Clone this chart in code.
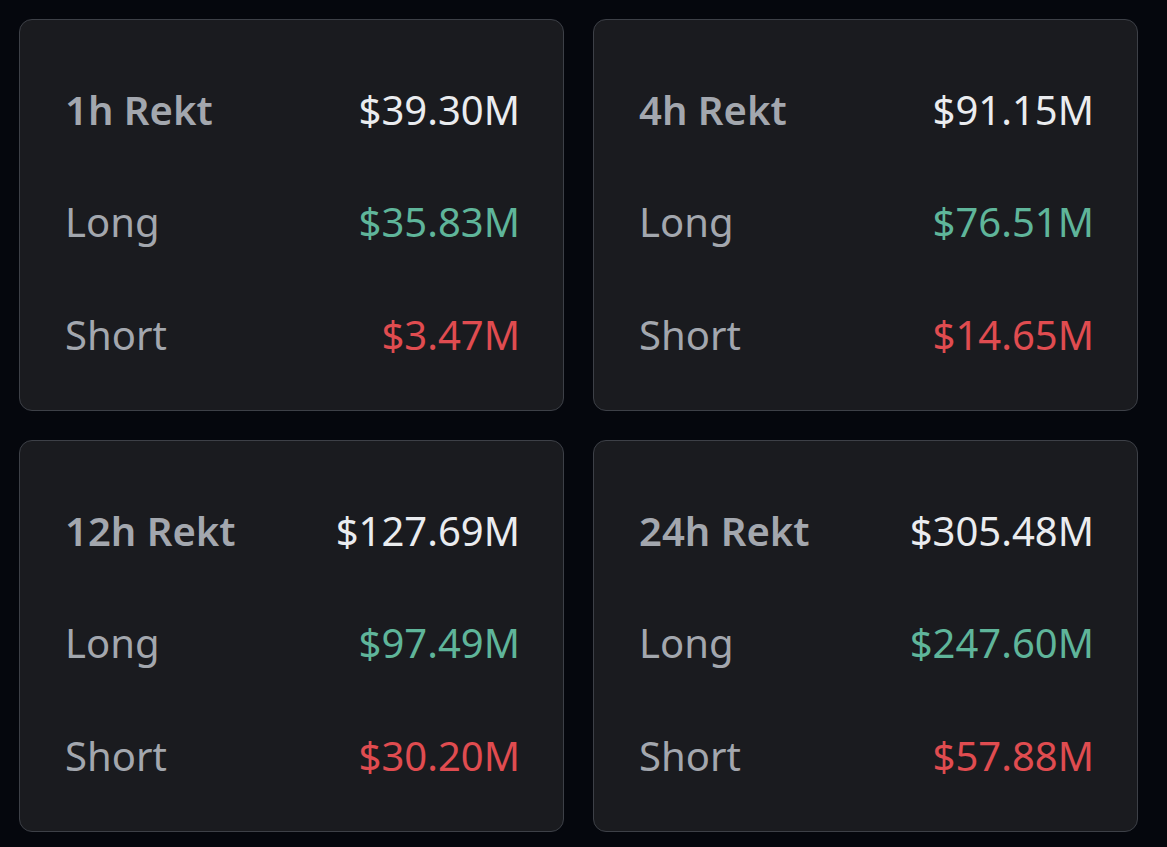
<!DOCTYPE html>
<html lang="en">
<head>
  <meta charset="UTF-8">
  <title>Rekt Summary</title>
  <script src="https://cdn.jsdelivr.net/npm/chart.js"></script>
  <style>
    html, body {
      margin: 0;
      padding: 0;
      background: #05070d;
      width: 1167px;
      height: 847px;
      overflow: hidden;
      font-family: "Noto Sans", "Open Sans", sans-serif;
    }
    .grid {
      position: relative;
      width: 1167px;
      height: 847px;
    }
    .card {
      position: absolute;
      width: 545px;
      height: 392px;
      background: #1a1b1f;
      border: 1.5px solid #3d4047;
      border-radius: 13px;
      box-sizing: border-box;
    }
    .row {
      position: absolute;
      left: 45px;
      right: 43px;
      height: 50px;
      display: flex;
      justify-content: space-between;
      align-items: center;
      font-size: 40px;
      line-height: 50px;
    }
    .label { color: #a3a7ae; }
    .title .label { font-weight: 600; }
    .value { color: #eaecef; }
    .long .value { color: #5fb59a; }
    .short .value { color: #e04c50; }
  </style>
</head>
<body>
  <div class="grid" id="grid"></div>

  <script>
    // data
    const periods = ['1h', '4h', '12h', '24h'];
    const totalRekt = [39.30, 91.15, 127.69, 305.48];
    const longRekt = [35.83, 76.51, 97.49, 247.60];
    const shortRekt = [3.47, 14.65, 30.20, 57.88];

    const cardLeft = [19, 593];
    const cardTop = [19, 440];
    const rowCenters = [90, 202, 315];

    function fmt(v) {
      return '$' + v.toFixed(2) + 'M';
    }

    const grid = document.getElementById('grid');
    periods.forEach(function(p, i) {
      const card = document.createElement('div');
      card.className = 'card';
      card.style.left = cardLeft[i % 2] + 'px';
      card.style.top = cardTop[Math.floor(i / 2)] + 'px';

      const rows = [
        ['title', p + ' Rekt', totalRekt[i]],
        ['long', 'Long', longRekt[i]],
        ['short', 'Short', shortRekt[i]]
      ];
      rows.forEach(function(r, j) {
        const row = document.createElement('div');
        row.className = 'row ' + r[0];
        row.style.top = (rowCenters[j] - 25) + 'px';
        const label = document.createElement('span');
        label.className = 'label';
        label.textContent = r[1];
        const value = document.createElement('span');
        value.className = 'value';
        value.textContent = fmt(r[2]);
        row.appendChild(label);
        row.appendChild(value);
        card.appendChild(row);
      });
      grid.appendChild(card);
    });
  </script>
</body>
</html>
